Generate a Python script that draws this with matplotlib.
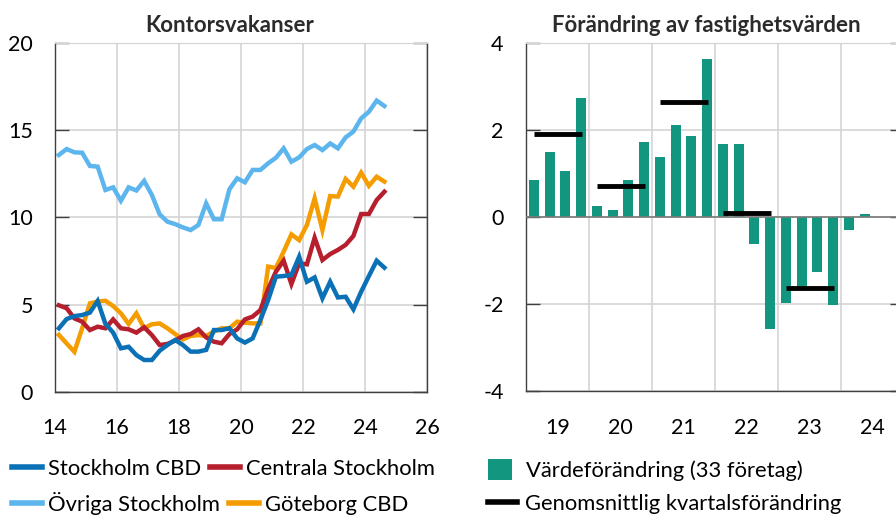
import numpy as np
import matplotlib
matplotlib.use("Agg")
import matplotlib.pyplot as plt
from matplotlib.lines import Line2D
from matplotlib.patches import Patch

plt.rcParams["font.family"] = ["Lato", "DejaVu Sans"]
plt.rcParams["axes.unicode_minus"] = False

# Kontorsvakanser, quarterly 2014Q1 - 2024Q3 (procent)
stockholm_cbd = [3.64, 4.17, 4.34, 4.40, 4.54, 5.21, 3.90, 3.39, 2.49, 2.58,
                 2.10, 1.82, 1.82, 2.35, 2.68, 2.97, 2.68, 2.30, 2.30, 2.40,
                 3.54, 3.54, 3.64, 3.06, 2.82, 3.06, 4.12, 5.26, 6.60, 6.64,
                 6.70, 7.75, 6.31, 6.56, 5.36, 6.31, 5.41, 5.45, 4.73, 5.74,
                 6.64, 7.52, 7.12]
centrala_sthlm = [4.96, 4.79, 4.21, 4.02, 3.54, 3.73, 3.64, 4.15, 3.64, 3.58,
                  3.39, 3.70, 3.25, 2.68, 2.74, 2.93, 3.20, 3.31, 3.58, 3.12,
                  2.87, 2.78, 3.31, 3.58, 4.15, 4.31, 4.69, 5.90, 6.89, 7.52,
                  6.18, 7.37, 7.31, 8.84, 7.56, 7.90, 8.14, 8.43, 8.94, 10.20,
                  10.20, 11.00, 11.48]
ovriga_sthlm = [13.59, 13.93, 13.74, 13.72, 12.96, 12.92, 11.58, 11.73, 10.96, 11.73,
                11.55, 12.10, 11.29, 10.18, 9.76, 9.62, 9.43, 9.28, 9.57, 10.81,
                9.90, 9.90, 11.62, 12.25, 12.02, 12.73, 12.73, 13.11, 13.43, 13.97,
                13.20, 13.45, 13.93, 14.16, 13.87, 14.25, 13.97, 14.60, 14.93, 15.69,
                16.07, 16.71, 16.40]
goteborg_cbd = [3.26, 2.77, 2.29, 3.64, 5.07, 5.17, 5.22, 4.92, 4.50, 3.89,
                4.50, 3.64, 3.87, 3.92, 3.64, 3.31, 3.00, 3.20, 3.25, 3.20,
                3.45, 3.64, 3.64, 4.02, 3.96, 3.92, 3.92, 7.18, 7.10, 8.04,
                9.03, 8.70, 9.57, 11.10, 9.28, 11.23, 11.20, 12.21, 11.77, 12.57,
                11.82, 12.34, 12.06]

# Förändring av fastighetsvärden, quarterly 2019Q1 - 2024Q2 (procent)
vardeforandring = [0.84, 1.48, 1.06, 2.74,
                   0.25, 0.16, 0.86, 1.71,
                   1.38, 2.10, 1.86, 3.63,
                   1.68, 1.67, -0.62, -2.56,
                   -1.97, -1.62, -1.27, -2.03,
                   -0.31, 0.06]
avg_years = [19, 20, 21, 22, 23]
avg_change = [1.90, 0.70, 2.65, 0.08, -1.64]

c_cbd = "#0b71b6"
c_central = "#b51f2e"
c_ovriga = "#5db5ee"
c_gbg = "#f59c00"
c_bar = "#12967f"
grid_c = "#d4d4d4"
spine_c = "#404040"

fig = plt.figure(figsize=(8.96, 5.16), dpi=100)

# left panel
ax1 = fig.add_axes([0.0614, 0.2409, 0.4152, 0.6752])
n = len(stockholm_cbd)
x = 14 + (np.arange(n) + 0.5) / 4
ax1.plot(x, ovriga_sthlm, color=c_ovriga, lw=3.2, solid_joinstyle="miter")
ax1.plot(x, goteborg_cbd, color=c_gbg, lw=3.2, solid_joinstyle="miter")
ax1.plot(x, centrala_sthlm, color=c_central, lw=3.2, solid_joinstyle="miter")
ax1.plot(x, stockholm_cbd, color=c_cbd, lw=3.2, solid_joinstyle="miter")
ax1.set_xlim(14, 26)
ax1.set_ylim(0, 20)
ax1.set_xticks([14, 16, 18, 20, 22, 24, 26])
ax1.set_yticks([0, 5, 10, 15, 20])

# right panel
ax2 = fig.add_axes([0.587, 0.2417, 0.4219, 0.6756])
xb = 19 + (np.arange(len(vardeforandring)) + 0.5) / 4
ax2.bar(xb, vardeforandring, width=0.16, color=c_bar, zorder=2)
ax2.axhline(0, color="#7a7a7a", lw=1.2, zorder=3)
for yr, v in zip(avg_years, avg_change):
    ax2.hlines(v, yr + 0.127, yr + 0.889, color="black", lw=3.5, zorder=4,
               capstyle="butt")
ax2.set_xlim(19, 25)
ax2.set_ylim(-4, 4)
ax2.set_xticks([19.5, 20.5, 21.5, 22.5, 23.5, 24.5])
ax2.set_xticklabels(["19", "20", "21", "22", "23", "24"])
ax2.set_xticks([20, 21, 22, 23, 24], minor=True)
ax2.set_yticks([-4, -2, 0, 2, 4])

for ax in (ax1, ax2):
    ax.set_axisbelow(True)
    ax.spines["top"].set_color(grid_c)
    for s in ("left", "right", "bottom"):
        ax.spines[s].set_color(spine_c)
        ax.spines[s].set_linewidth(1.0)
    ax.tick_params(axis="y", direction="in", length=10, width=1, color=spine_c,
                   left=True, right=True, labelsize=15.5, pad=16)
    ax.tick_params(axis="x", which="both", length=0, labelsize=15.5, pad=19)

ax1.grid(True, color=grid_c, lw=1.2)
ax2.grid(True, axis="y", color=grid_c, lw=1.2)
ax2.grid(True, axis="x", which="minor", color=grid_c, lw=1.2)
ax2.grid(False, axis="x", which="major")

fig.text(0.256, 0.950, "Kontorsvakanser", ha="center", va="center",
         fontsize=16, fontweight="bold", color="#2b2b2b")
fig.text(0.788, 0.950, "Förändring av fastighetsvärden", ha="center", va="center",
         fontsize=16, fontweight="bold", color="#2b2b2b")

# legends
leg_kw = dict(frameon=False, fontsize=15.8, handlelength=1.37, handletextpad=0.27,
              columnspacing=0.4, borderaxespad=0, borderpad=0)
row1 = [Line2D([], [], color=c_cbd, lw=4), Line2D([], [], color=c_central, lw=4)]
row2 = [Line2D([], [], color=c_ovriga, lw=4), Line2D([], [], color=c_gbg, lw=4)]
fig.legend(row1, ["Stockholm CBD", "Centrala Stockholm"], ncol=2,
           loc="center left", bbox_to_anchor=(0.0134, 0.092), **leg_kw)
fig.legend(row2, ["Övriga Stockholm", "Göteborg CBD"], ncol=2,
           loc="center left", bbox_to_anchor=(0.0134, 0.024), **leg_kw)

row3 = [Patch(facecolor=c_bar, edgecolor="none")]
row4 = [Line2D([], [], color="black", lw=4)]
fig.legend(row3, ["Värdeförändring (33 företag)"], loc="center left",
           bbox_to_anchor=(0.545, 0.090), handlelength=1.1, handleheight=1.1,
           frameon=False, fontsize=15.8, handletextpad=0.6, borderaxespad=0, borderpad=0)
fig.legend(row4, ["Genomsnittlig kvartalsförändring"], loc="center left",
           bbox_to_anchor=(0.545, 0.023), handlelength=1.32, handletextpad=0.36,
           frameon=False, fontsize=15.8, borderaxespad=0, borderpad=0)

fig.savefig("out.png", dpi=100)
plt.close(fig)
